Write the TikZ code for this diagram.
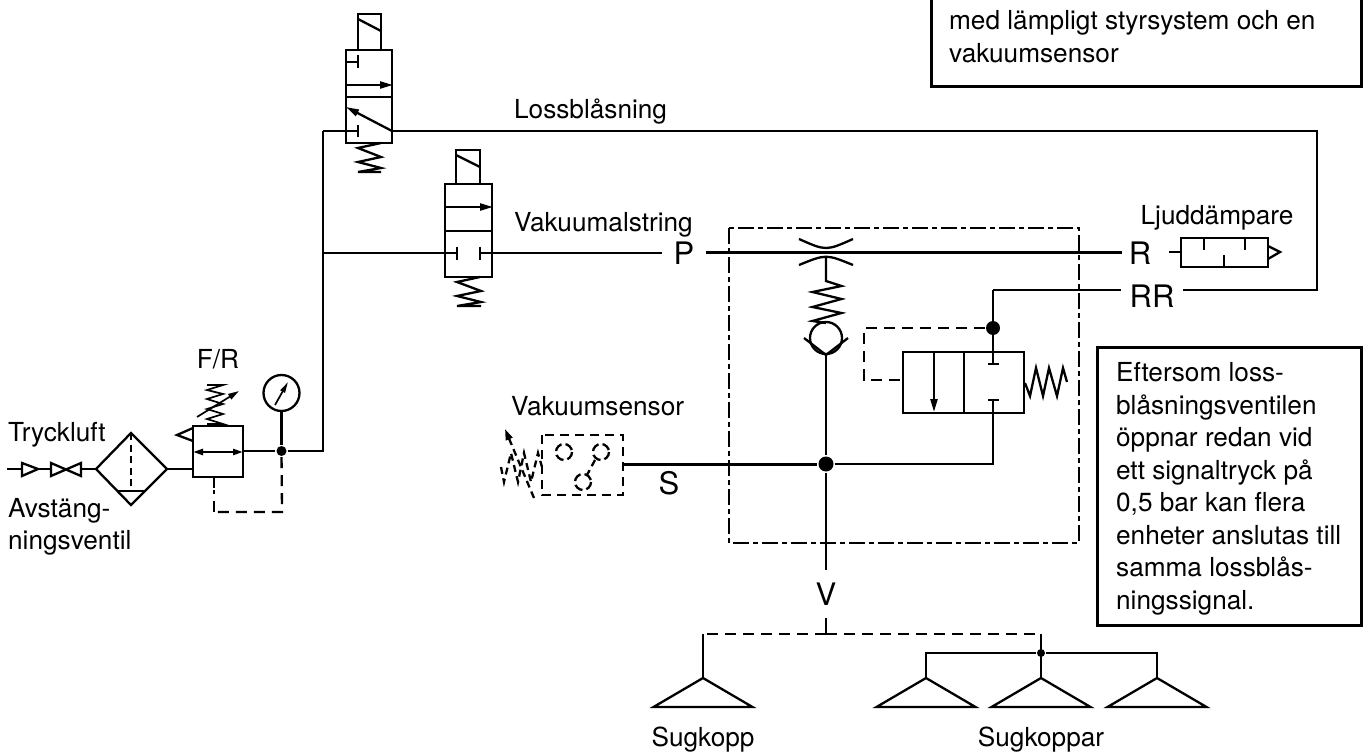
\documentclass[tikz,border=0pt]{standalone}
\usepackage{fontspec}
\setmainfont{TeX Gyre Heros}
\usetikzlibrary{arrows.meta}

\tikzset{
  lbl/.style={font=\fontsize{26.2}{32.5}\selectfont, inner sep=0pt, align=left},
  port/.style={font=\fontsize{31}{31}\selectfont, inner sep=0pt},
  txtbox/.style={draw, line width=3pt},
  dot/.style={circle, fill=black, inner sep=0pt},
  tip/.style={-{Triangle[length=13pt,width=7pt]}},
  shortdash/.style={dash pattern=on 7pt off 4.5pt},
  dashline/.style={dash pattern=on 11pt off 7pt},
  dashdot/.style={dash pattern=on 16pt off 4pt on 5pt off 4pt}
}

\begin{document}
\begin{tikzpicture}[x=1pt,y=-1pt,line width=2.3pt]
\useasboundingbox (0,0) rectangle (1363,754);

\coordinate (airin) at (7,469);
\coordinate (filterin) at (96,469);
\coordinate (filterout) at (167,469);
\coordinate (regin) at (193,469);
\coordinate (regout) at (243,451);
\coordinate (supply) at (323,451);
\coordinate (blowvalve) at (392,131);
\coordinate (blowleft) at (323,131);
\coordinate (blowcorner) at (1317,131);
\coordinate (rrcorner) at (1317,290);
\coordinate (vacleft) at (323,253);
\coordinate (vacin) at (457,253);
\coordinate (vacout) at (480,253);
\coordinate (sensorout) at (623,464);
\coordinate (ctop) at (826,355);
\coordinate (pilottop) at (993,364);
\coordinate (pilotbot) at (993,400);
\coordinate (scorner) at (993,464);
\coordinate (rrleft) at (993,290);
\coordinate (cupleft) at (703,678);
\coordinate (cupmid) at (1041,678);
\coordinate (cupa) at (926,678);
\coordinate (cupb) at (1157,678);
\coordinate (bleedtop) at (214,477);

\node [port] (Pport) at (684,253) [minimum width=42pt] {P};
\node [port] (Rport) at (1140,253) [minimum width=34pt] {R};
\node [port] (RRport) at (1152,296) [minimum width=60pt] {RR};
\node [port] (Vport) at (826,594) [minimum height=46pt] {V};
\node [port] (Sport) at (669,483) {S};

\node [dot,minimum size=10pt] (jsupply) at (281.5,451) {};
\node [dot,minimum size=14pt] (jpilot) at (993,328) {};
\node [dot,minimum size=15pt] (jmain) at (826,464) {};
\node [dot,minimum size=8pt] (jcups) at (1041,653) {};

% supply side
\draw (airin) -- (22,469);
\draw (22,463) -- (38,469) -- (22,476) -- cycle;
\draw (38,469) -- (51,469);
\draw (51,463) -- (81,476) -- (81,463) -- (51,476) -- cycle;
\draw (81,469) -- (filterin);
\draw (filterin) -- (131,433) -- (filterout) -- (131,505) -- cycle;
\draw [shortdash] (131,433) -- (131,491);
\draw (117,491) -- (145,491);
\draw (filterout) -- (regin);
\draw (193,426) rectangle (243,477);
\draw (193,428) -- (177,435) -- (193,441);
\draw [{Triangle[length=10pt,width=6pt]}-{Triangle[length=10pt,width=6pt]}] (193,452) -- (243,452);
\draw [line width=1.7pt] (207,424) -- (223,424) -- (207,419) -- (223,414) -- (207,409) -- (223,404) -- (207,399) -- (223,394) -- (207,390) -- (223,385) -- (207,385);
\draw [line width=1.7pt,-{Triangle[length=11pt,width=6pt]}] (197,417) -- (239,391);
\draw (regout) -- (jsupply) -- (supply) -- (blowleft);
\draw (bleedtop) -- (214,488);
\draw [dashline] (214,512) -- (214,490);
\draw [dashline] (jsupply) -- (282,512) -- (214,512);
\draw (281.5,393) circle (18);
\draw (jsupply) -- (281.5,411);
\draw [line width=1.7pt,-{Triangle[length=11pt,width=5pt]}] (275,405) -- (288,382);

% blow-off valve
\draw (358,50) -- (358,14) -- (381,14) -- (381,50);
\draw (358,19) -- (381,31);
\draw (346,50) rectangle (392,143);
\draw (346,97) -- (392,97);
\draw (346,62) -- (358,62);
\draw (358,55) -- (358,68);
\draw [tip] (346,85) -- (393,85);
\draw [tip] (blowvalve) -- (346,107);
\draw (blowleft) -- (358,131);
\draw (358,125) -- (358,137);
\draw (blowvalve) -- (blowcorner) -- (rrcorner) -- (RRport.east |- rrcorner);
\draw (381,143) -- (358,148) -- (381,157) -- (358,162) -- (381,168) -- (358,172) -- (381,172);

% vacuum valve
\draw (456,184) -- (456,150) -- (480,150) -- (480,184);
\draw (456,155) -- (480,167);
\draw (445,184) rectangle (492,277);
\draw (445,231) -- (492,231);
\draw [tip] (445,207) -- (493,207);
\draw [line width=2pt] (vacleft) -- (vacin);
\draw (457,247) -- (457,260);
\draw (480,247) -- (480,260);
\draw [line width=2pt] (vacout) -- (Pport);
\draw (480,277) -- (457,282) -- (481,291) -- (457,296) -- (481,302) -- (457,306) -- (481,306);

% ejector
\draw [dashdot] (729,228) rectangle (1079,543);
\draw [line width=3pt] (Pport) -- (Rport);
\draw (799,239) .. controls (826,251) .. (853,239);
\draw (799,265) .. controls (826,254) .. (853,265);
\draw (826,257) -- (826,281) -- (841.5,286) -- (812.5,292) -- (841.5,299) -- (812.5,307) -- (841.5,313) -- (812.5,321) -- (826,323);
\draw (826,338) circle (16);
\draw (804,338) -- (ctop) -- (848,338);
\draw (ctop) -- (jmain) -- (Vport);
\draw (Vport) -- (826,634);
\draw [line width=3pt] (sensorout) -- (jmain);
\draw (jmain) -- (scorner) -- (pilotbot);
\draw (988,400) -- (999,400);
\draw (rrleft) -- (pilottop);
\draw (988,364) -- (999,364);
\draw (rrleft) -- (RRport.west |- rrleft);
\draw [dashline] (jpilot) -- (864,328) -- (864,380) -- (902,380);
\draw [line width=1.7pt] (903,352) rectangle (1024,413);
\draw [line width=1.7pt] (964,352) -- (964,413);
\draw [tip] (934,352) -- (934,412);
\draw (1025,383) -- (1030,396) -- (1036,368) -- (1043,396) -- (1049,368) -- (1057,396) -- (1063,368) -- (1067,382);

% silencer
\draw (1169,252) -- (1181,252);
\draw (1181,238) rectangle (1268,267);
\draw (1204,238) -- (1204,250);
\draw (1245,238) -- (1245,250);
\draw (1224,267) -- (1224,255);
\draw (1268,246) -- (1280,252) -- (1268,259);

% sensor
\draw [line width=1.7pt,dash pattern=on 9pt off 6pt] (542,435) rectangle (623,495);
\draw [dash pattern=on 9pt off 4pt] (564,452) circle (8);
\draw [dash pattern=on 9pt off 4pt] (601,452) circle (8);
\draw [dash pattern=on 9pt off 4pt] (583,482) circle (8);
\draw [shortdash] (595,460) -- (587,475);
\draw [shortdash] (501,467) -- (504,482) -- (511,453) -- (518,482) -- (524,453) -- (531,482) -- (538,453) -- (542,467);
\draw [shortdash,-{Triangle[length=11pt,width=7pt]}] (534,498) -- (505,429);

% cups
\draw [dashline] (826,634) -- (703,634);
\draw [dashline] (826,634) -- (1041,634);
\draw (703,634) -- (cupleft);
\draw (1041,634) -- (cupmid);
\draw (cupa) -- (926,653) -- (jcups) -- (1157,653) -- (cupb);
\foreach \x in {703,926,1041,1157}
  \draw (\x,678) -- (\x-49.5,707) -- (\x+49.5,707) -- cycle;

% boxes
\draw [txtbox] (931,-10) rectangle (1361,87);
\draw [txtbox] (1097,347) rectangle (1361,625);

\node [lbl,anchor=west] (tlabel) at (7,435) {Tryckluft};
\node [lbl,anchor=north west] (alabel) at (7,497) {Avstäng-\\ningsventil};
\node [lbl] (frlabel) at (218,359) {F/R};
\node [lbl,anchor=west] (loss) at (513,112) {Lossblåsning};
\node [lbl,anchor=west] (vacgen) at (513,225) {Vakuumalstring};
\node [lbl,anchor=west] (vacsens) at (510,406) {Vakuumsensor};
\node [lbl] (silent) at (1217,218) {Ljuddämpare};
\node [lbl] (cup) at (703,740) {Sugkopp};
\node [lbl] (cups) at (1041,740) {Sugkoppar};
\node [lbl,anchor=north west] (note) at (948,9.5) {med lämpligt styrsystem och en\\vakuumsensor};
\node [lbl,anchor=north west] (blow) at (1115,361.5) {Eftersom loss-\\blåsningsventilen\\öppnar redan vid\\ett signaltryck på\\0,5 bar kan flera\\enheter anslutas till\\samma lossblås-\\ningssignal.};
\end{tikzpicture}
\end{document}
